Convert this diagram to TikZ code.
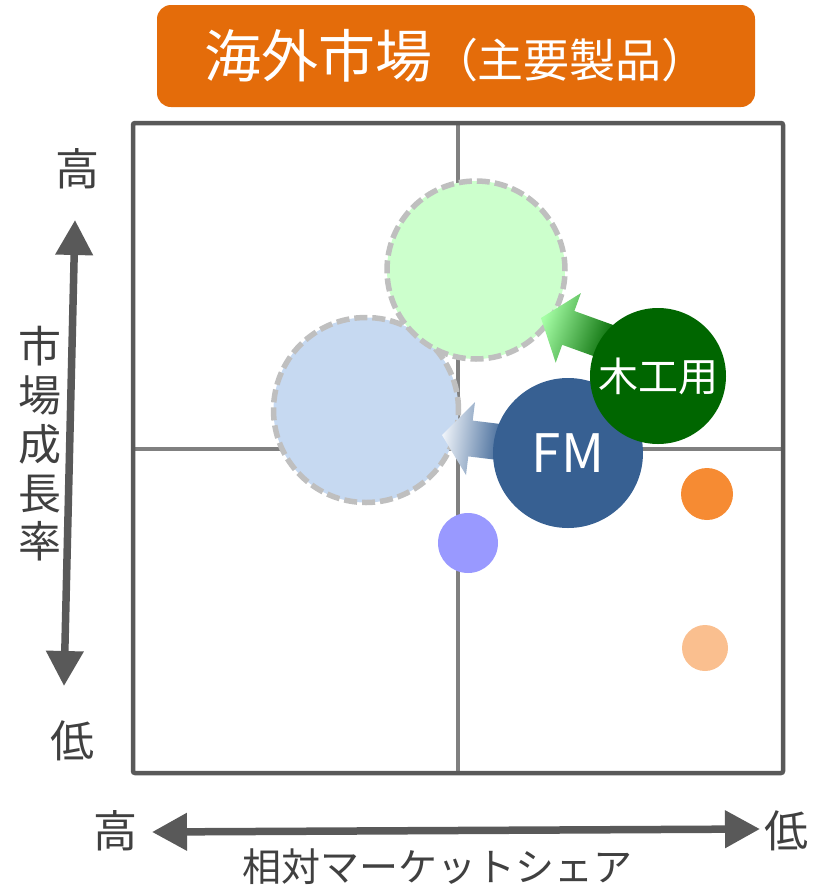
\documentclass[tikz,border=0pt]{standalone}
\usepackage{fontspec}
\setmainfont{Noto Sans CJK JP}
\usepackage{tikz}
\usetikzlibrary{arrows.meta}

\definecolor{titleorange}{HTML}{E46C0A}
\definecolor{framegray}{HTML}{595959}
\definecolor{gridgray}{HTML}{808080}
\definecolor{dashgray}{HTML}{BFBFBF}
\definecolor{labelgray}{HTML}{404040}
\definecolor{palegreen}{HTML}{CCFFCC}
\definecolor{paleblue}{HTML}{C6D9F1}
\definecolor{fmblue}{HTML}{376092}
\definecolor{woodgreen}{HTML}{006600}
\definecolor{tipgreen}{HTML}{A6FFA6}
\definecolor{tipblue}{HTML}{F2F6FB}
\definecolor{bubblepurple}{HTML}{9999FF}
\definecolor{bubbleorange}{HTML}{F68B33}
\definecolor{bubblepeach}{HTML}{FABF8F}

\tikzset{
  titlebox/.style={fill=titleorange, rounded corners=14pt, minimum width=598pt, minimum height=102pt, text=white, inner sep=0pt},
  bubble/.style={circle, inner sep=0pt, text=white},
  targetbubble/.style={circle, inner sep=0pt, draw=dashgray, line width=5.5pt, dash pattern=on 13pt off 5pt},
  axislabel/.style={text=labelgray, inner sep=0pt, font=\fontsize{44}{44}\selectfont},
  axisarrow/.style={draw=framegray, line width=7.5pt, {Triangle[length=35pt,width=36pt]}-{Triangle[length=35pt,width=36pt]}},
}

\begin{document}
\begin{tikzpicture}[x=1pt,y=-1pt]
  \useasboundingbox (0,0) rectangle (819,887);

  \node[titlebox] (title) at (456,56)
    {{\fontsize{57}{57}\selectfont 海外市場}{\fontsize{46}{46}\selectfont （主要製品）}};

  % quadrants
  \draw[gridgray, line width=4pt] (458,123) -- (458,773);
  \draw[gridgray, line width=4pt] (133,449) -- (783,449);
  \draw[framegray, line width=4.5pt, rounded corners=2pt] (133,123) rectangle (783,773);

  % axes
  \coordinate (ylow) at (64,686);
  \coordinate (yhigh) at (75,220);
  \draw[axisarrow] (ylow) -- (yhigh);
  \coordinate (xhigh) at (152,832);
  \coordinate (xlow) at (760,829);
  \draw[axisarrow] (xhigh) -- (xlow);

  \node[axislabel] (yhightext) at (77,169) {高};
  \node[axislabel] (ylowtext) at (72,741) {低};
  \node[axislabel, align=center, font=\fontsize{43}{48.8}\selectfont] (ytext) at (40,444)
    {市\\場\\成\\長\\率};
  \node[axislabel] (xhightext) at (115,831) {高};
  \node[axislabel] (xlowtext) at (786,831) {低};
  \node[axislabel, font=\fontsize{39}{39}\selectfont] (xtext) at (437,867) {相対マーケットシェア};

  % target positions
  \node[targetbubble, fill=paleblue, minimum size=185pt] (fmgoal) at (366,410) {};
  \node[targetbubble, fill=palegreen, minimum size=178pt] (woodgoal) at (476,270) {};

  % moves
  \shade[top color=tipblue, bottom color=fmblue, shading angle=83]
    (442,435) -- (475.0,402.0) -- (472.7,420.6) -- (505.5,424.6)
    -- (501.1,460.4) -- (468.3,456.4) -- (466.0,475.0) -- cycle;
  \shade[top color=tipgreen, bottom color=woodgreen, shading angle=70]
    (541,318) -- (580.9,293.1) -- (574.4,311.0) -- (617.6,326.6)
    -- (605.4,360.4) -- (562.2,344.8) -- (555.7,362.7) -- cycle;

  % products
  \node[bubble, fill=fmblue, minimum size=150pt, font=\fontsize{53}{53}\selectfont] (fm) at (568,453) {FM};
  \node[bubble, fill=woodgreen, minimum size=136pt, font=\fontsize{40}{40}\selectfont] (wood) at (658,376) {木工用};
  \node[bubble, fill=bubblepurple, minimum size=60pt] (purple) at (468,543) {};
  \node[bubble, fill=bubbleorange, minimum size=52pt] (orange) at (707,494) {};
  \node[bubble, fill=bubblepeach, minimum size=46pt] (peach) at (705,648) {};
\end{tikzpicture}
\end{document}
